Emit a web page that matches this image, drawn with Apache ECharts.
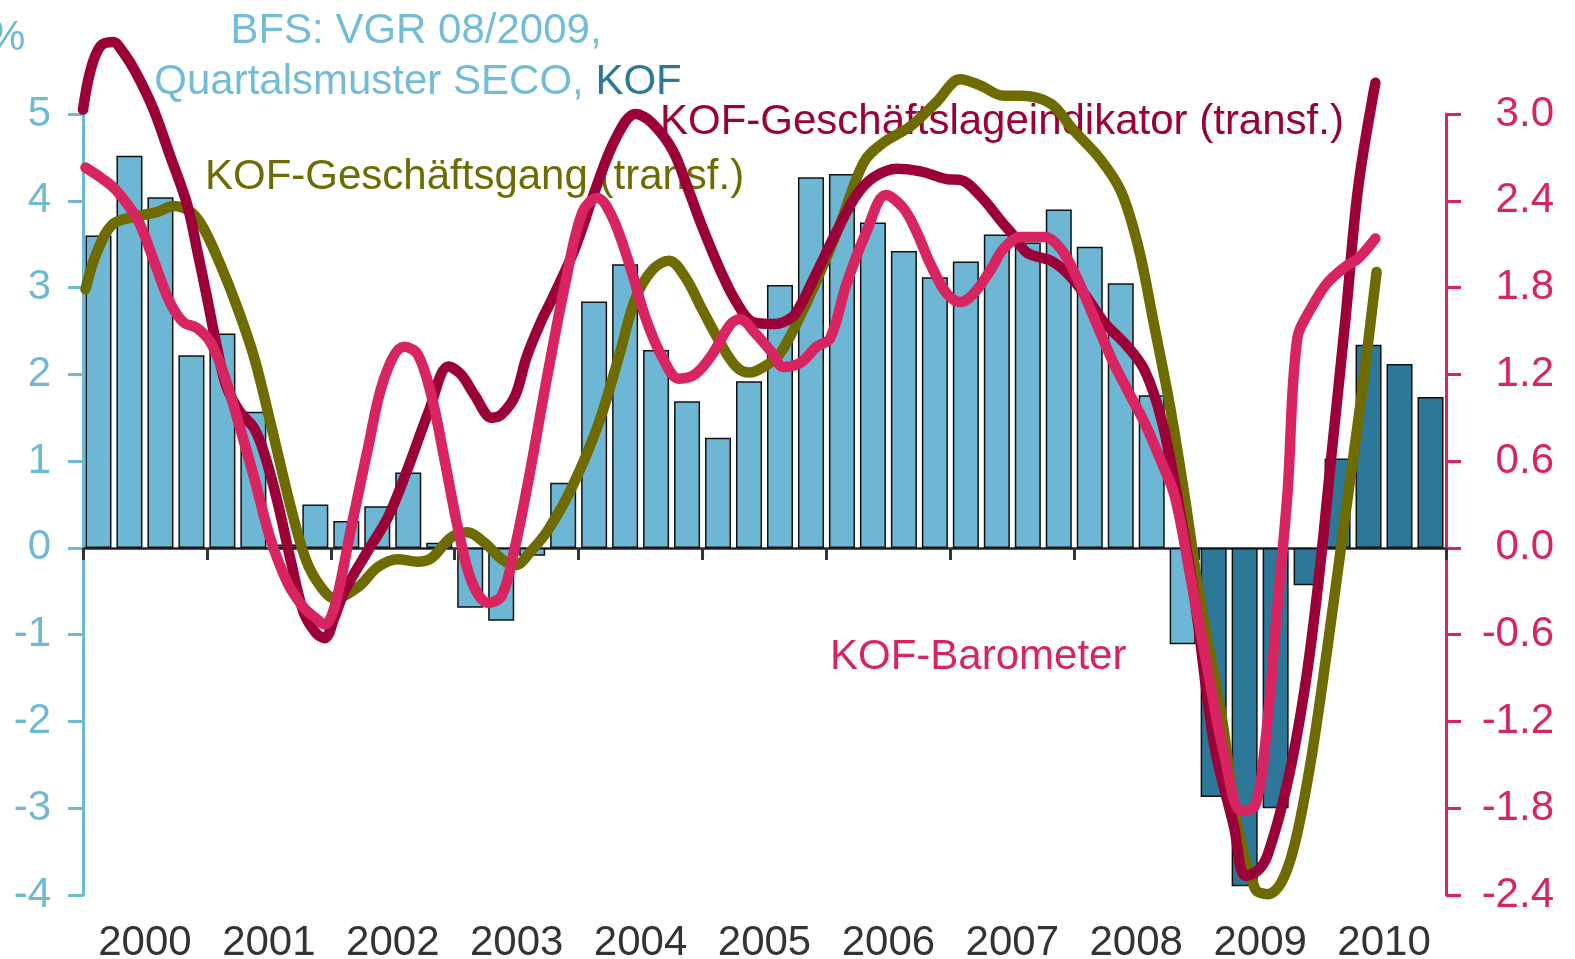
<!DOCTYPE html>
<html>
<head>
<meta charset="utf-8">
<title>BIP und KOF-Indikatoren</title>
<script src="https://cdn.jsdelivr.net/npm/echarts@6/dist/echarts.min.js"></script>
<style>
  html, body { margin: 0; padding: 0; background: #fff; }
  #chart { width: 1575px; height: 959px; }
</style>
</head>
<body>
<div id="chart"></div>
<script>
// Jahre / Quartale
const years = ['2000', '2001', '2002', '2003', '2004', '2005', '2006', '2007', '2008', '2009', '2010']
const quarters = []
years.forEach(y => { for (let q = 1; q <= 4; q++) quarters.push(y + ' Q' + q) })

// BIP-Wachstum (Vorjahr, %) – BFS/SECO bis 2008 Q4, danach KOF
const gdpGrowth = [
  3.60, 4.52, 4.04, 2.22,
  2.47, 1.57, 0.04, 0.50,
  0.31, 0.48, 0.87, 0.06,
  -0.69, -0.84, -0.09, 0.75,
  2.84, 3.27, 2.28, 1.69,
  1.27, 1.92, 3.03, 4.27,
  4.31, 3.75, 3.42, 3.12,
  3.30, 3.61, 3.52, 3.90,
  3.47, 3.05, 1.76, -1.11,
  -2.87, -3.90, -3.00, -0.43,
  1.03, 2.34, 2.12, 1.74
]
const firstKofQuarter = 36

// KOF-Geschäftslageindikator (transf.), linke Skala
const geschaeftslage = [
  [2000.00, 5.05], [2000.06, 5.50], [2000.14, 5.78], [2000.24, 5.83], [2000.33, 5.70], [2000.43, 5.47],
  [2000.57, 5.05], [2000.70, 4.53], [2000.84, 3.96], [2000.92, 3.44], [2001.00, 2.89], [2001.08, 2.32],
  [2001.16, 1.85], [2001.27, 1.56], [2001.38, 1.38], [2001.46, 1.10], [2001.57, 0.53], [2001.68, -0.17],
  [2001.78, -0.74], [2001.88, -0.98], [2001.95, -1.04], [2002.03, -0.80], [2002.11, -0.50], [2002.30, -0.03],
  [2002.46, 0.35], [2002.62, 0.91], [2002.79, 1.57], [2002.95, 2.09], [2003.05, 2.00], [2003.16, 1.76],
  [2003.30, 1.50], [2003.38, 1.54], [2003.49, 1.76], [2003.58, 2.20], [2003.70, 2.62], [2003.78, 2.85],
  [2003.97, 3.45], [2004.13, 4.11], [2004.30, 4.72], [2004.46, 5.00], [2004.59, 4.90], [2004.76, 4.58],
  [2004.89, 4.11], [2005.00, 3.69], [2005.14, 3.21], [2005.27, 2.84], [2005.41, 2.60], [2005.57, 2.58],
  [2005.65, 2.60], [2005.75, 2.70], [2005.92, 3.17], [2006.08, 3.64], [2006.24, 4.06], [2006.38, 4.27],
  [2006.57, 4.37], [2006.76, 4.34], [2006.97, 4.25], [2007.08, 4.24], [2007.24, 4.06], [2007.43, 3.73],
  [2007.51, 3.60], [2007.62, 3.40], [2007.81, 3.31], [2007.94, 3.17], [2008.08, 2.93], [2008.24, 2.60],
  [2008.43, 2.32], [2008.57, 2.04], [2008.70, 1.50], [2008.81, 0.75], [2008.97, -0.58], [2009.13, -2.27],
  [2009.29, -3.22], [2009.38, -3.78], [2009.48, -3.72], [2009.56, -3.54], [2009.72, -2.71], [2009.86, -1.62],
  [2009.97, -0.40], [2010.08, 1.13], [2010.19, 2.66], [2010.29, 4.14], [2010.43, 5.36]
]

// KOF-Geschäftsgang (transf.), linke Skala
const geschaeftsgang = [
  [2000.02, 2.98], [2000.11, 3.40], [2000.24, 3.73], [2000.43, 3.82], [2000.60, 3.87], [2000.73, 3.94],
  [2000.87, 3.87], [2000.97, 3.69], [2001.11, 3.26], [2001.24, 2.79], [2001.38, 2.20], [2001.52, 1.40],
  [2001.68, 0.45], [2001.80, -0.14], [2001.92, -0.45], [2002.03, -0.58], [2002.22, -0.45], [2002.38, -0.22],
  [2002.54, -0.13], [2002.70, -0.16], [2002.81, -0.12], [2002.97, 0.12], [2003.10, 0.18], [2003.24, 0.06],
  [2003.38, -0.13], [2003.49, -0.20], [2003.62, -0.03], [2003.75, 0.20], [2003.94, 0.68], [2004.16, 1.43],
  [2004.33, 2.23], [2004.46, 2.88], [2004.60, 3.21], [2004.73, 3.31], [2004.86, 3.12], [2005.00, 2.74],
  [2005.14, 2.37], [2005.27, 2.09], [2005.38, 2.02], [2005.51, 2.10], [2005.62, 2.23], [2005.75, 2.56],
  [2005.92, 3.08], [2006.11, 3.73], [2006.30, 4.44], [2006.46, 4.67], [2006.68, 4.86], [2006.89, 5.14],
  [2007.08, 5.40], [2007.24, 5.33], [2007.43, 5.21], [2007.57, 5.21], [2007.81, 5.12], [2007.99, 4.82],
  [2008.21, 4.48], [2008.38, 4.10], [2008.52, 3.45], [2008.64, 2.60], [2008.77, 1.65], [2008.89, 0.60],
  [2009.01, -0.55], [2009.19, -1.95], [2009.32, -3.22], [2009.46, -3.93], [2009.56, -3.99], [2009.67, -3.86],
  [2009.78, -3.41], [2009.91, -2.45], [2010.04, -1.18], [2010.18, 0.30], [2010.32, 1.77], [2010.44, 3.18]
]

// KOF-Barometer, rechte Skala
const barometer = [
  [2000.02, 2.63], [2000.16, 2.55], [2000.27, 2.47], [2000.44, 2.27], [2000.57, 1.99], [2000.70, 1.70],
  [2000.81, 1.56], [2000.92, 1.52], [2001.03, 1.42], [2001.13, 1.22], [2001.24, 0.91], [2001.38, 0.49],
  [2001.51, 0.07], [2001.65, -0.24], [2001.78, -0.41], [2001.87, -0.48], [2001.95, -0.53], [2002.03, -0.41],
  [2002.16, 0.12], [2002.30, 0.69], [2002.43, 1.17], [2002.59, 1.39], [2002.70, 1.34], [2002.81, 1.06],
  [2002.92, 0.60], [2003.03, 0.12], [2003.14, -0.24], [2003.27, -0.38], [2003.38, -0.33], [2003.48, -0.02],
  [2003.60, 0.49], [2003.73, 1.11], [2003.89, 1.82], [2004.03, 2.32], [2004.15, 2.42], [2004.27, 2.29],
  [2004.41, 1.96], [2004.54, 1.59], [2004.68, 1.31], [2004.81, 1.17], [2004.94, 1.20], [2005.08, 1.34],
  [2005.22, 1.54], [2005.30, 1.58], [2005.43, 1.48], [2005.57, 1.34], [2005.65, 1.25], [2005.79, 1.28],
  [2005.92, 1.39], [2006.03, 1.45], [2006.16, 1.82], [2006.32, 2.18], [2006.48, 2.44], [2006.62, 2.35],
  [2006.73, 2.18], [2006.84, 1.96], [2006.97, 1.76], [2007.08, 1.70], [2007.19, 1.76], [2007.33, 1.93],
  [2007.43, 2.07], [2007.57, 2.15], [2007.76, 2.15], [2007.89, 2.07], [2008.02, 1.87], [2008.16, 1.59],
  [2008.30, 1.31], [2008.43, 1.09], [2008.57, 0.86], [2008.70, 0.60], [2008.81, 0.36], [2008.94, -0.21],
  [2009.08, -0.86], [2009.21, -1.43], [2009.35, -1.82], [2009.46, -1.78], [2009.54, -1.36], [2009.64, -0.40],
  [2009.72, 0.37], [2009.80, 1.45], [2009.92, 1.67], [2010.04, 1.83], [2010.18, 1.94], [2010.29, 2.00],
  [2010.43, 2.14]
]

const FONT = '"Liberation Sans", Arial, sans-serif'
const C_BLUE = '#6fb9d7'
const C_BAR = '#6db7d5'
const C_BAR_KOF = '#2d7899'
const C_OLIVE = '#6e6b00'
const C_LAGE = '#9b0038'
const C_BARO = '#d92462'

const chart = echarts.init(document.getElementById('chart'))

const lineSeries = (name, data, color, yIdx, z) => ({
  name,
  type: 'line',
  xAxisIndex: 1,
  yAxisIndex: yIdx,
  data,
  smooth: 0.35,
  showSymbol: false,
  symbol: 'none',
  clip: false,
  z,
  lineStyle: { color, width: 10.5, cap: 'round', join: 'round' }
})

const option = {
  animation: false,
  backgroundColor: '#fff',
  textStyle: { fontFamily: FONT },
  grid: { left: 83, right: 129, top: 114, bottom: 64, containLabel: false, outerBoundsMode: 'none' },
  xAxis: [
    {
      type: 'category',
      data: quarters,
      position: 'bottom',
      boundaryGap: true,
      axisLine: { onZero: true, onZeroAxisIndex: 0, lineStyle: { color: '#222', width: 2.5 } },
      axisTick: { show: true, interval: 3, alignWithLabel: false, length: 12, lineStyle: { color: '#333', width: 3 } },
      axisLabel: { show: false },
      splitLine: { show: false }
    },
    {
      type: 'value',
      min: 2000,
      max: 2011,
      show: false,
      axisLine: { onZero: false }
    },
    {
      type: 'category',
      data: years,
      position: 'bottom',
      axisLine: { show: false, onZero: false },
      axisTick: { show: false },
      axisLabel: { fontSize: 42, color: '#333', margin: 27, fontFamily: FONT },
      splitLine: { show: false }
    }
  ],
  yAxis: [
    {
      type: 'value',
      position: 'left',
      min: -4,
      max: 5,
      interval: 1,
      axisLine: { show: true, onZero: false, lineStyle: { color: C_BLUE, width: 3 } },
      axisTick: { show: true, length: 15, lineStyle: { color: C_BLUE, width: 3 } },
      axisLabel: { fontSize: 42, color: C_BLUE, margin: 32, fontFamily: FONT },
      splitLine: { show: false }
    },
    {
      type: 'value',
      position: 'right',
      min: -2.4,
      max: 3.0,
      interval: 0.6,
      axisLine: { show: true, onZero: false, lineStyle: { color: C_BARO, width: 3 } },
      axisTick: { show: true, length: 15, lineStyle: { color: C_BARO, width: 3 } },
      axisLabel: {
        fontSize: 42, color: C_BARO, margin: 108, align: 'right', fontFamily: FONT,
        formatter: v => (Math.abs(v) < 1e-9 ? 0 : v).toFixed(1)
      },
      splitLine: { show: false }
    }
  ],
  series: [
    {
      name: 'BIP',
      type: 'bar',
      xAxisIndex: 0,
      yAxisIndex: 0,
      data: gdpGrowth,
      barCategoryGap: '16%',
      z: 1,
      itemStyle: {
        color: p => (p.dataIndex >= firstKofQuarter ? C_BAR_KOF : C_BAR),
        borderColor: '#111',
        borderWidth: 1.5
      }
    },
    lineSeries('KOF-Geschäftsgang (transf.)', geschaeftsgang, C_OLIVE, 0, 3),
    lineSeries('KOF-Geschäftslageindikator (transf.)', geschaeftslage, C_LAGE, 0, 4),
    lineSeries('KOF-Barometer', barometer, C_BARO, 1, 5)
  ],
  // Beschriftungen liegen unter den Linien
  graphic: {
    z: 2,
    elements: [
      { type: 'text', left: -12, top: 17, style: { text: '%', fontSize: 42, fill: C_BLUE, fontFamily: FONT } },
      {
        type: 'text', x: 416, y: 31,
        style: { text: 'BFS: VGR 08/2009,', fontSize: 42, fill: '#73bcd9', fontFamily: FONT, align: 'center', verticalAlign: 'middle' }
      },
      {
        type: 'text', x: 418, y: 82,
        style: {
          text: '{a|Quartalsmuster SECO, }{b|KOF}', align: 'center', verticalAlign: 'middle',
          rich: {
            a: { fontSize: 42, fill: '#73bcd9', color: '#73bcd9', fontFamily: FONT },
            b: { fontSize: 42, fill: C_BAR_KOF, color: C_BAR_KOF, fontFamily: FONT }
          }
        }
      },
      {
        type: 'text', x: 205, y: 177,
        style: { text: 'KOF-Geschäftsgang (transf.)', fontSize: 42, fill: C_OLIVE, fontFamily: FONT, verticalAlign: 'middle' }
      },
      {
        type: 'text', x: 660, y: 122,
        style: { text: 'KOF-Geschäftslageindikator (transf.)', fontSize: 42, fill: C_LAGE, fontFamily: FONT, verticalAlign: 'middle' }
      },
      {
        type: 'text', x: 830, y: 657,
        style: { text: 'KOF-Barometer', fontSize: 42, fill: C_BARO, fontFamily: FONT, verticalAlign: 'middle' }
      }
    ]
  }
}

chart.setOption(option)
</script>
</body>
</html>
